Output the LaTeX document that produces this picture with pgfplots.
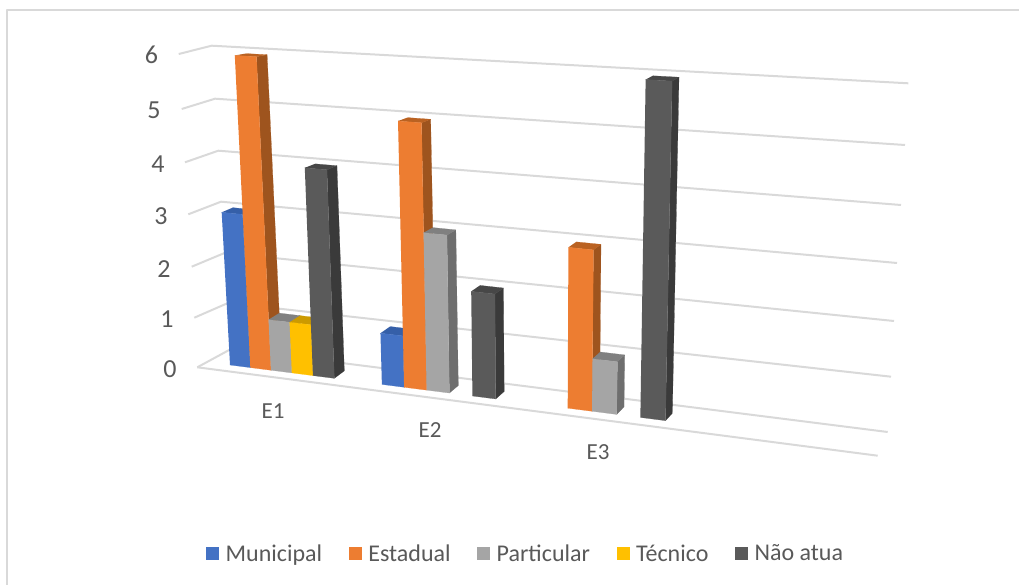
\documentclass[border=0pt]{standalone}
\usepackage{fontspec}
\setmainfont{Carlito}
\usepackage{pgfplots}
\pgfplotsset{compat=1.18}

\definecolor{gridc}{HTML}{D9D9D9}
\definecolor{txt}{HTML}{595959}
\definecolor{munF}{HTML}{4472C4}\definecolor{munS}{HTML}{2F5597}\definecolor{munT}{HTML}{355FA8}
\definecolor{estF}{HTML}{ED7D31}\definecolor{estS}{HTML}{9E541E}\definecolor{estT}{HTML}{BA6222}
\definecolor{parF}{HTML}{A5A5A5}\definecolor{parS}{HTML}{6E6E6E}\definecolor{parT}{HTML}{808080}
\definecolor{tecF}{HTML}{FFC000}\definecolor{tecS}{HTML}{997300}\definecolor{tecT}{HTML}{CC9A00}
\definecolor{naoF}{HTML}{5A5A5A}\definecolor{naoS}{HTML}{3A3A3A}\definecolor{naoT}{HTML}{474747}

% Perspective projection of a bar corner: u = position along the category axis,
% h = value, d = depth (0 front, 1 back of the bar).
\def\W{(20.2*\thisrow{u}+0.1327*\thisrow{u}*\thisrow{u})}
\def\PX{230+\W+\thisrow{h}*(-2.77+0.0089*\W)+\thisrow{d}*(11-0.0095*\W)}
\def\PY{365+0.1278*\W-\thisrow{h}*(50+0.005*\W+\thisrow{h}*(0.3+0.001*\W))-\thisrow{d}*(7.5-\thisrow{h}*(0.95-0.0008*\W))}

% \drawbar{left u}{value}{colour prefix}: front, right side and top faces
\newcommand{\drawbar}[3]{%
  \pgfmathsetmacro{\uu}{#1+1}%
  \edef\temp{\noexpand\drawfaces{#1}{\uu}{#2}{#3}}\temp}
\newcommand{\drawfaces}[4]{%
  \addplot[forget plot,fill=#4S,draw=#4S,line width=0.2pt] table[x expr=\PX,y expr=\PY,row sep=\\]
    {u d h\\ #2 0 0\\ #2 1 0\\ #2 1 #3\\ #2 0 #3\\};
  \addplot[forget plot,fill=#4T,draw=#4T,line width=0.2pt] table[x expr=\PX,y expr=\PY,row sep=\\]
    {u d h\\ #1 0 #3\\ #2 0 #3\\ #2 1 #3\\ #1 1 #3\\};
  \addplot[forget plot,fill=#4F,draw=#4F,line width=0.2pt] table[x expr=\PX,y expr=\PY,row sep=\\]
    {u d h\\ #1 0 0\\ #2 0 0\\ #2 0 #3\\ #1 0 #3\\};
}

\begin{document}
\begin{tikzpicture}
\path[use as bounding box] (0,0) rectangle (1019pt,585pt);
\begin{axis}[
  at={(0,0)},anchor=south west,
  width=1019pt,height=585pt,scale only axis,
  xmin=0,xmax=1019,ymin=0,ymax=585,y dir=reverse,
  hide axis,clip=false,
  legend columns=5,
  legend cell align=left,
  legend style={at={(axis cs:206,553.5)},anchor=west,draw=none,fill=none,inner sep=0pt,
    font=\fontsize{24}{24}\selectfont,text=txt,
    /tikz/every even column/.append style={column sep=24.6pt},
    /tikz/every odd column/.append style={column sep=4.5pt}},
  every axis plot/.append style={line join=round},
]
% chart frame
\addplot[forget plot,gridc,line width=2pt] coordinates {(7,585) (7,10.5) (1019,10.5)};

% horizontal grid on the side and back walls, value 6 down to 0
\addplot[forget plot,gridc,line width=2pt] coordinates {(178.7,54)  (211.7,45.7) (908.3,83.3)};
\addplot[forget plot,gridc,line width=2pt] coordinates {(181.7,109) (215,98.7)   (905,145)};
\addplot[forget plot,gridc,line width=2pt] coordinates {(185,162.3) (218.3,150.7) (901,205)};
\addplot[forget plot,gridc,line width=2pt] coordinates {(188.3,214.3) (221,201.7) (897,263)};
\addplot[forget plot,gridc,line width=2pt] coordinates {(191.7,266.7) (224.5,253) (894,321)};
\addplot[forget plot,gridc,line width=2pt] coordinates {(194.3,317.7) (228,303)   (891,376.7)};
\addplot[forget plot,gridc,line width=2pt] coordinates {(197.3,367.3) (231,349)   (887.7,432)};
% front edge of the floor
\addplot[forget plot,gridc,line width=2pt] coordinates {(197.3,367.3) (877.7,455.7)};

% E1
\drawbar{0}{3}{mun}
\drawbar{1}{6}{est}
\drawbar{2}{1}{par}
\drawbar{3}{1}{tec}
\drawbar{4}{4}{nao}
% E2 (Tecnico is 0)
\drawbar{7.18}{1}{mun}
\drawbar{8.18}{5}{est}
\drawbar{9.18}{3}{par}
\drawbar{11.18}{2}{nao}
% E3 (Municipal and Tecnico are 0)
\drawbar{15.2}{3}{est}
\drawbar{16.2}{1}{par}
\drawbar{18.15}{6}{nao}

% value and category labels
\begin{scope}[every node/.style={text=txt,font=\fontsize{26}{26}\selectfont,inner sep=0pt}]
\node at (axis cs:151.5,55) {6};
\node at (axis cs:154,110) {5};
\node at (axis cs:158,164.5) {4};
\node at (axis cs:161,216.5) {3};
\node at (axis cs:164,269) {2};
\node at (axis cs:167,319) {1};
\node at (axis cs:170,369.5) {0};
\end{scope}
\begin{scope}[every node/.style={text=txt,font=\fontsize{23}{23}\selectfont,inner sep=0pt}]
\node at (axis cs:273,411) {E1};
\node at (axis cs:430,430) {E2};
\node at (axis cs:598,452) {E3};
\end{scope}

% legend
\pgfplotsset{swatch/.style={legend image code/.code={\fill[##1,draw=none] (0pt,-6.5pt) rectangle (13pt,6.5pt);}}}
\addlegendimage{swatch,fill=munF}\addlegendentry{Municipal}
\addlegendimage{swatch,fill=estF}\addlegendentry{Estadual}
\addlegendimage{swatch,fill=parF}\addlegendentry{Particular}
\addlegendimage{swatch,fill=tecF}\addlegendentry{Técnico}
\addlegendimage{swatch,fill=naoF}\addlegendentry{Não atua}
\end{axis}
\end{tikzpicture}
\end{document}
